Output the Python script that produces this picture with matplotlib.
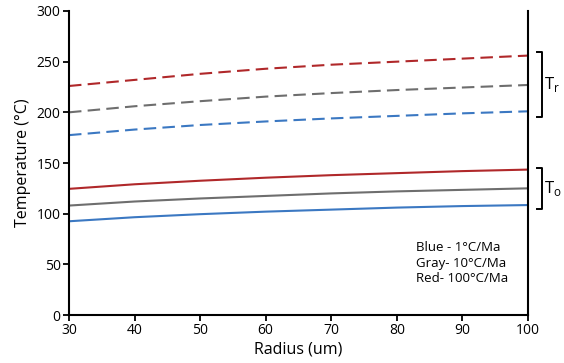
import matplotlib
matplotlib.use("Agg")
import matplotlib.pyplot as plt

plt.rcParams['font.family'] = ['Open Sans', 'DejaVu Sans']

radius = [30, 40, 50, 60, 70, 80, 90, 100]

# closure temperatures, dashed (Tr)
tr_red  = [226, 232, 238, 243, 247, 250, 253, 256]
tr_gray = [200, 206, 211, 215.5, 219, 222, 224.5, 227]
tr_blue = [177.5, 183, 187.5, 191, 194, 196.5, 199, 201]

# solid (To)
to_red  = [124.5, 129, 132.5, 135.5, 138, 140, 142, 143.5]
to_gray = [108, 112, 115, 117.5, 120, 122, 123.5, 125]
to_blue = [92.5, 96.5, 99.5, 102, 104, 106, 107.5, 108.5]

RED, GRAY, BLUE = '#b0282a', '#6e6e6e', '#3b78c2'

fig = plt.figure(figsize=(5.64, 3.63), dpi=100)
ax = fig.add_axes([0.1223, 0.1322, 0.8137, 0.8375])

dash = (6, 3)
ax.plot(radius, tr_red, color=RED, lw=1.5, dashes=dash)
ax.plot(radius, tr_gray, color=GRAY, lw=1.5, dashes=dash)
ax.plot(radius, tr_blue, color=BLUE, lw=1.5, dashes=dash)
ax.plot(radius, to_red, color=RED, lw=1.5)
ax.plot(radius, to_gray, color=GRAY, lw=1.5)
ax.plot(radius, to_blue, color=BLUE, lw=1.5)

ax.set_xlim(30, 100); ax.set_ylim(0, 300)
ax.set_xticks(range(30, 101, 10)); ax.set_yticks(range(0, 301, 50))
ax.spines['top'].set_visible(False)
for s in ['left', 'bottom', 'right']:
    ax.spines[s].set_linewidth(1.5)
ax.tick_params(direction='out', length=4, width=1.3, labelsize=10, pad=2)
ax.set_xlabel('Radius (um)', fontsize=11.5, labelpad=2)
ax.set_ylabel('Temperature (°C)', fontsize=11.5, labelpad=4)

# brackets
def bracket(y0, y1, label):
    ax.plot([101.4, 102.2, 102.2, 101.4], [y0, y0, y1, y1], color='black', lw=1.4, clip_on=False)
    ax.text(102.5, (y0 + y1) / 2, label, fontsize=12, va='center', ha='left')

bracket(259.5, 195.5, 'T$_\\mathregular{r}$')
bracket(145, 104.5, 'T$_\\mathregular{o}$')

ax.text(83.0, 51, 'Blue - 1°C/Ma\nGray- 10°C/Ma\nRed- 100°C/Ma', fontsize=9.5,
        va='center', ha='left', linespacing=1.25)

plt.savefig('out.png', dpi=100)
